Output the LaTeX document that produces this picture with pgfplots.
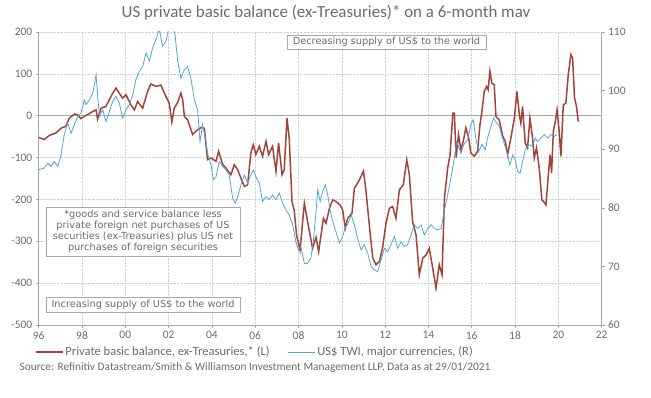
\documentclass[border=0pt]{standalone}
\usepackage{pgfplots}
\pgfplotsset{compat=1.18}
\usepackage{fontspec}
\setmainfont{Carlito}
\newfontfamily\boxfont{DejaVu Sans}
\definecolor{brn}{HTML}{A2433A}
\definecolor{blu}{HTML}{4FA6D8}
\definecolor{txt}{HTML}{6B6B6B}
\definecolor{axc}{HTML}{A8A8A8}

\pgfplotstableread{
year val
1996.00 -52
1996.26 -57
1996.49 -47
1996.80 -41
1997.03 -30
1997.26 -25
1997.41 -6
1997.65 4
1997.80 2
1997.95 -7
1998.19 1
1998.50 10
1998.65 14
1998.72 -8
1998.88 18
1999.10 22
1999.42 54
1999.57 66
1999.72 54
1999.88 42
2000.03 50
2000.26 26
2000.42 14
2000.57 34
2000.80 18
2001.03 58
2001.18 76
2001.42 70
2001.65 73
2001.80 54
2002.03 30
2002.15 -15
2002.26 18
2002.40 30
2002.57 54
2002.65 38
2002.73 -2
2002.88 -10
2003.11 -45
2003.26 -37
2003.50 -28
2003.65 -30
2003.80 -105
2003.96 -101
2004.19 -109
2004.31 -85
2004.50 -117
2004.65 -125
2004.88 -141
2005.03 -117
2005.19 -129
2005.34 -149
2005.50 -169
2005.65 -165
2005.80 -89
2005.91 -69
2006.03 -93
2006.19 -73
2006.34 -97
2006.50 -61
2006.62 -93
2006.80 -73
2006.96 -133
2007.08 -65
2007.24 -141
2007.34 -129
2007.47 -6
2007.57 -53
2007.70 -205
2007.80 -225
2007.91 -285
2008.07 -321
2008.27 -209
2008.42 -253
2008.65 -317
2008.81 -290
2008.93 -325
2009.04 -285
2009.15 -245
2009.27 -257
2009.43 -221
2009.58 -201
2009.73 -205
2009.92 -213
2010.04 -225
2010.16 -269
2010.27 -245
2010.47 -233
2010.58 -173
2010.73 -161
2010.89 -145
2011.00 -132
2011.12 -181
2011.27 -261
2011.43 -340
2011.58 -356
2011.74 -348
2011.89 -313
2012.04 -257
2012.20 -221
2012.35 -217
2012.50 -245
2012.66 -177
2012.84 -165
2013.00 -105
2013.12 -141
2013.27 -253
2013.43 -285
2013.58 -380
2013.74 -340
2013.89 -333
2014.04 -317
2014.20 -364
2014.35 -412
2014.50 -356
2014.63 -380
2014.74 -197
2014.89 -125
2015.00 -93
2015.13 6
2015.20 6
2015.28 -100
2015.39 -45
2015.50 -81
2015.61 -61
2015.73 -29
2015.86 -53
2015.96 -89
2016.12 -97
2016.27 -85
2016.38 -22
2016.47 10
2016.58 58
2016.69 70
2016.76 62
2016.84 106
2016.93 78
2017.04 74
2017.12 -2
2017.27 -10
2017.43 -49
2017.55 -61
2017.66 -93
2017.81 -53
2017.97 -6
2018.09 58
2018.20 2
2018.27 -18
2018.35 22
2018.47 -65
2018.58 -77
2018.69 -6
2018.81 -53
2018.89 -101
2018.99 -77
2019.12 -125
2019.24 -201
2019.32 -205
2019.43 -213
2019.54 -141
2019.62 -93
2019.69 -137
2019.77 -37
2019.86 -14
2019.94 14
2020.04 -37
2020.12 -97
2020.23 26
2020.35 30
2020.46 98
2020.58 146
2020.66 138
2020.75 42
2020.84 22
2020.92 -14
}\pbb

\pgfplotstableread{
year val
1996.00 86.5
1996.26 86.8
1996.42 87.6
1996.57 87.05
1996.72 87.9
1996.88 87.05
1997.03 89.0
1997.18 92.5
1997.34 94.5
1997.49 92.7
1997.65 94.2
1997.80 95.6
1997.95 96.2
1998.11 98.4
1998.19 97.6
1998.34 98.4
1998.50 99.6
1998.65 102.7
1998.80 95.6
1998.96 96.7
1999.11 94.7
1999.26 96.4
1999.42 98.2
1999.57 99.0
1999.72 97.9
1999.88 95.3
2000.03 96.7
2000.19 97.6
2000.34 99.3
2000.49 101.9
2000.65 103.3
2000.80 104.1
2000.96 106.4
2001.11 105.0
2001.26 107.3
2001.42 108.7
2001.57 110.5
2001.72 107.6
2001.88 108.4
2002.03 111.0
2002.19 111.0
2002.30 109.5
2002.42 105.0
2002.57 102.1
2002.73 103.6
2002.88 104.1
2003.03 102.1
2003.19 98.4
2003.34 96.7
2003.45 91.3
2003.57 94.2
2003.70 91.9
2003.80 89.3
2003.96 87.3
2004.07 84.8
2004.19 85.3
2004.34 87.9
2004.50 87.05
2004.65 86.5
2004.80 85.6
2004.96 81.6
2005.08 80.8
2005.19 81.9
2005.34 83.9
2005.50 85.6
2005.65 84.2
2005.80 85.6
2005.91 86.5
2006.03 85.3
2006.19 84.2
2006.34 81.1
2006.50 81.9
2006.65 81.4
2006.80 82.2
2006.96 81.4
2007.11 82.5
2007.27 80.8
2007.42 79.6
2007.57 78.8
2007.73 77.1
2007.88 74.2
2008.00 72.8
2008.11 73.4
2008.27 70.5
2008.42 70.5
2008.57 71.4
2008.68 74.2
2008.81 79.4
2008.89 83.1
2009.00 81.1
2009.12 82.8
2009.24 83.9
2009.35 82.2
2009.46 79.6
2009.58 77.7
2009.73 75.9
2009.89 74.0
2010.04 75.1
2010.17 76.8
2010.27 77.1
2010.43 78.8
2010.58 77.1
2010.73 74.8
2010.89 72.8
2011.04 73.7
2011.20 72.2
2011.35 70.0
2011.50 69.4
2011.66 69.1
2011.81 71.1
2011.97 73.1
2012.12 72.5
2012.27 73.7
2012.43 75.1
2012.58 73.1
2012.74 74.2
2012.89 73.4
2013.04 73.7
2013.20 75.4
2013.35 77.1
2013.50 76.5
2013.66 77.1
2013.81 75.4
2013.97 76.5
2014.12 77.1
2014.28 76.5
2014.43 76.2
2014.59 76.5
2014.74 79.6
2014.89 82.2
2015.05 85.3
2015.20 88.5
2015.30 91.3
2015.39 90.5
2015.50 89.3
2015.66 91.0
2015.81 91.6
2015.96 94.2
2016.07 95.0
2016.19 91.9
2016.32 89.6
2016.47 90.8
2016.63 89.9
2016.73 91.9
2016.89 93.9
2017.01 95.3
2017.15 94.5
2017.27 93.9
2017.40 92.2
2017.50 91.0
2017.66 89.0
2017.76 87.3
2017.89 89.0
2018.01 88.2
2018.12 86.2
2018.23 85.9
2018.35 87.9
2018.47 89.9
2018.63 90.8
2018.78 90.5
2018.94 91.9
2019.04 91.3
2019.20 91.9
2019.35 92.5
2019.51 91.9
2019.66 92.5
2019.81 92.2
2019.94 92.5
}\twi

\pgfplotsset{
  common/.style={
    at={(38.7bp,72bp)}, anchor=south west, scale only axis,
    width=562.9bp, height=293bp,
    xmin=1996, xmax=2022,
    tick label style={font=\fontsize{11.5}{12}\selectfont, text=txt},
    /pgf/number format/assume math mode=true,
    tick style={axc, line width=0.6pt},
    major tick length=3bp,
    tick align=outside,
    axis line style={axc, line width=0.7pt},
  }
}

\begin{document}
\begin{tikzpicture}[x=1bp,y=1bp]
\path[use as bounding box] (0,0) rectangle (651,397);
\begin{axis}[common,
  ymin=-500, ymax=200, ytick={-500,-400,...,200},
  xtick={1996,1998,...,2022},
  xticklabels={96,98,00,02,04,06,08,10,12,14,16,18,20,22},
  axis x line*=bottom, axis y line*=left,
  xtick pos=bottom, ytick pos=left,
  grid=major, grid style={densely dotted, gray!35, line width=0.5pt},
  /pgf/number format/set thousands separator={},
  legend columns=2,
  legend style={at={(0.384,-0.092)}, anchor=center, draw=none, fill=none,
    font=\fontsize{12.6}{13}\selectfont, text=txt,
    /tikz/every even column/.append style={column sep=16bp}},
  legend image code/.code={\draw[#1] (0bp,0bp) -- (27bp,0bp);},
]
\draw[gray!70, line width=0.7pt] (axis cs:1996,0) -- (axis cs:2022,0);
\addplot[brn, line width=1.5pt, mark=none] table[x=year, y=val] {\pbb};
\addlegendentry{Private basic balance, ex-Treasuries,* (L)}
\addlegendimage{blu, line width=0.8pt}
\addlegendentry{US\$ TWI, major currencies, (R)}
\end{axis}
\begin{axis}[common,
  ymin=60, ymax=110, ytick={60,70,...,110},
  axis y line*=right, axis x line=none,
  ytick pos=right,
]
\addplot[blu, line width=0.8pt, mark=none] table[x=year, y=val] {\twi};
\end{axis}
\node[text=txt, font=\fontsize{17}{19}\selectfont] at (326,384) {US private basic balance (ex-Treasuries)* on a 6-month mav};
\node[text=txt, font=\fontsize{11.4}{12}\selectfont] at (255,29) {Source: Refinitiv Datastream/Smith \& Williamson Investment Management LLP, Data as at 29/01/2021};
\node[draw=axc, fill=white, text=txt, font=\boxfont\fontsize{9.8}{11}\selectfont, minimum width=199bp, minimum height=14bp, inner sep=1.2bp] at (386.5,355) {Decreasing supply of US\$ to the world};
\node[draw=axc, fill=white, text=txt, font=\boxfont\fontsize{9.8}{11.2}\selectfont, align=center, minimum width=194bp, minimum height=49bp, inner sep=1.5bp] at (143,165.5) {*goods and service balance less\\private foreign net purchases of US\\securities (ex-Treasuries) plus US net\\purchases of foreign securities};
\node[draw=axc, fill=white, text=txt, font=\boxfont\fontsize{9.8}{11}\selectfont, minimum width=194bp, minimum height=15bp, inner sep=1.2bp] at (143,92.5) {Increasing supply of US\$ to the world};
\end{tikzpicture}
\end{document}
